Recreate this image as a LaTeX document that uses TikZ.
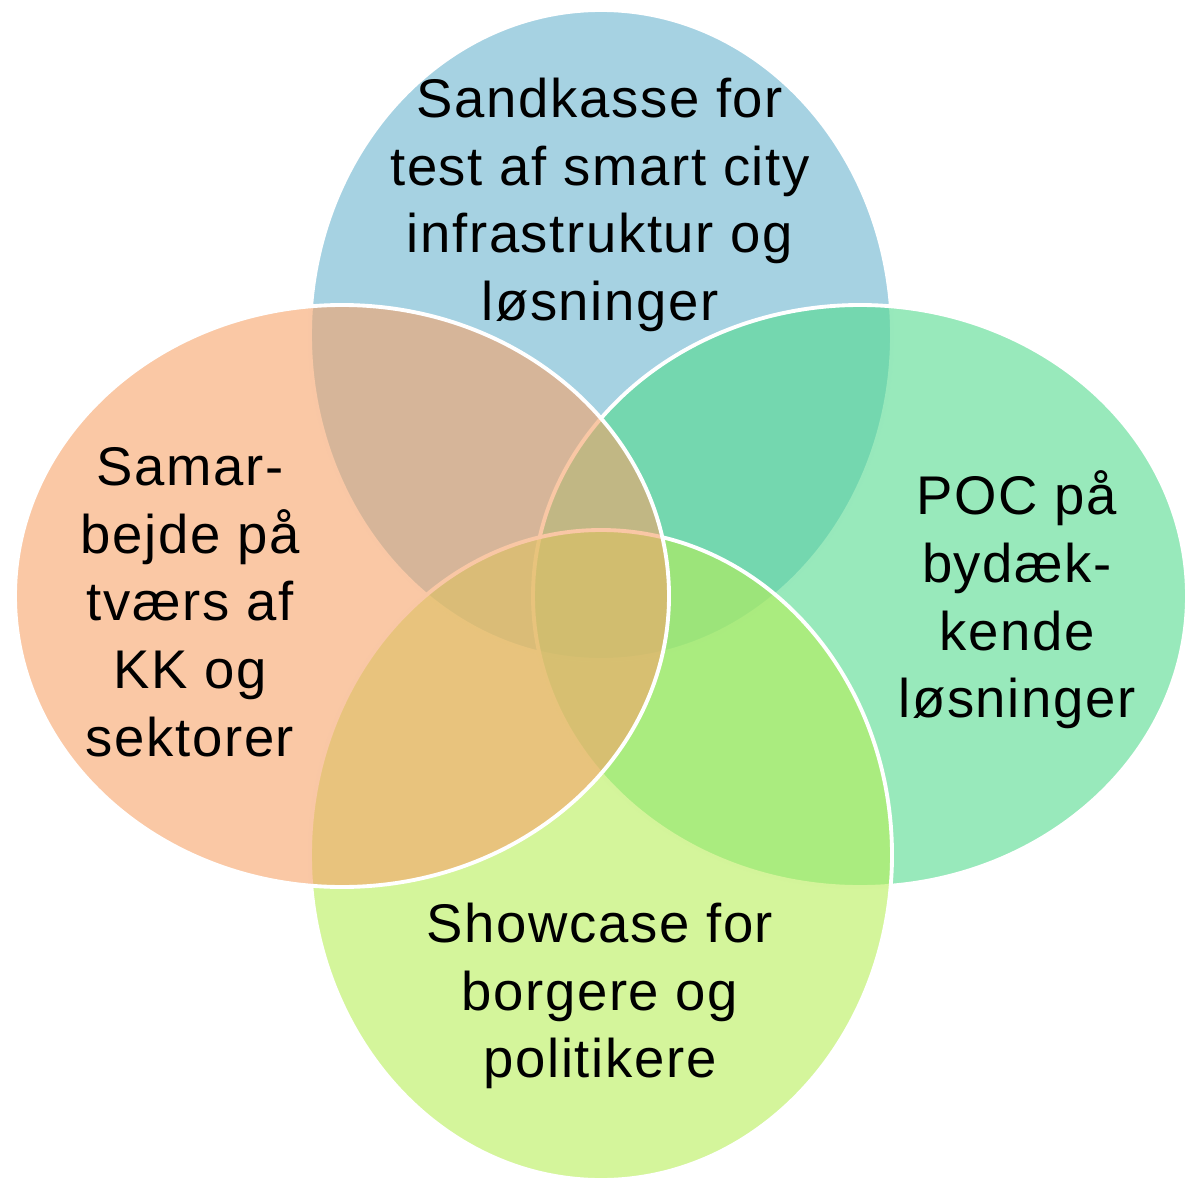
\documentclass[tikz,border=0pt]{standalone}
\usepackage{fontspec}
\usetikzlibrary{shapes.geometric}
\newfontfamily\vennfont{Liberation Sans}[LetterSpace=3]

\definecolor{topblue}{RGB}{107,180,207}
\definecolor{rightgreen}{RGB}{83,218,142}
\definecolor{bottomgreen}{RGB}{183,238,88}
\definecolor{leftorange}{RGB}{246,163,105}

\tikzset{
    venn/.style={ellipse, draw=white, line width=2.2pt, fill opacity=0.6, inner sep=0pt},
    tall/.style={venn, minimum width=11.64cm, minimum height=13cm},
    wide/.style={venn, minimum width=13.08cm, minimum height=11.64cm},
    label/.style={align=center, font=\vennfont\fontsize{31}{38.5}\selectfont, text=black}
}

\begin{document}
\begin{tikzpicture}
        \useasboundingbox (0,0) rectangle (23.74,23.6);

        % circles, back to front
        \node[tall, fill=topblue] (sandkasse) at (12.02,16.9) {};
        \node[wide, fill=rightgreen] (poc) at (17.2,11.68) {};
        \node[tall, fill=bottomgreen] (showcase) at (12.02,6.5) {};
        \node[wide, fill=leftorange] (samarbejde) at (6.84,11.68) {};

        % texts
        \node[label] (sandkassetext) at (12.0,19.5) {Sandkasse for\\test af smart city\\infrastruktur og\\løsninger};
        \node[label] (samarbejdetext) at (3.8,11.56) {Samar-\\bejde på\\tværs af\\KK og\\sektorer};
        \node[label] (poctext) at (20.34,11.6) {POC på\\bydæk-\\kende\\løsninger};
        \node[label] (showcasetext) at (12.0,3.68) {Showcase for\\borgere og\\politikere};
    \end{tikzpicture}
\end{document}
